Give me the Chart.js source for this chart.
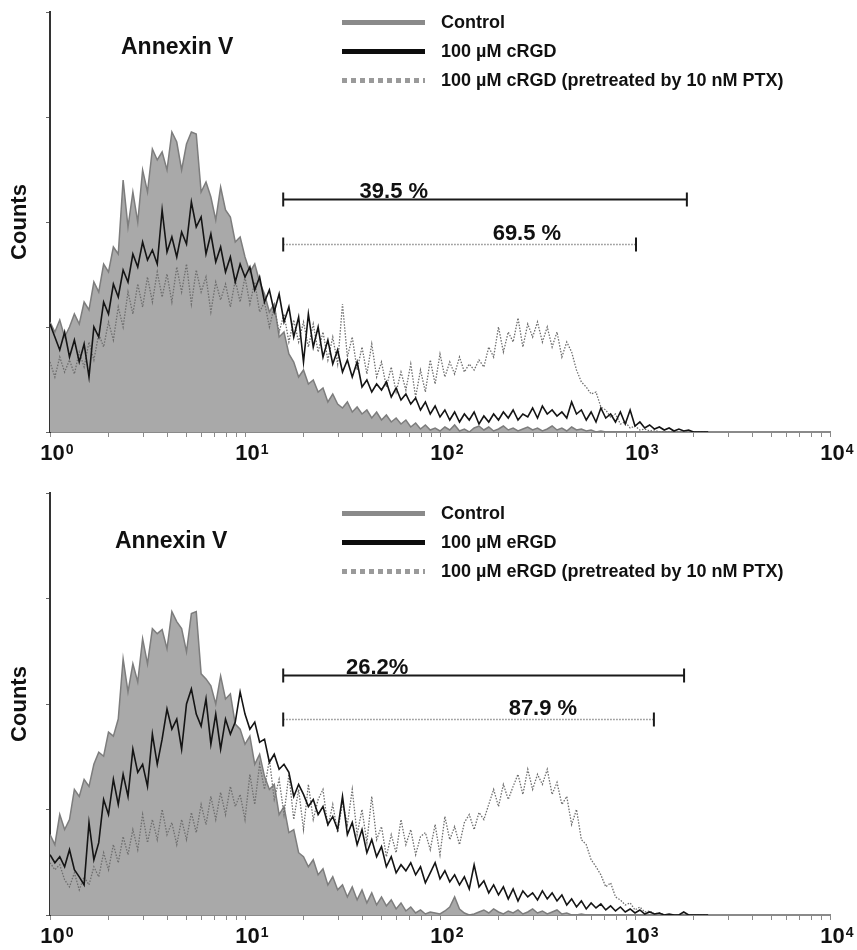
<!DOCTYPE html>
<html>
<head>
<meta charset="utf-8">
<script src="https://cdn.jsdelivr.net/npm/chart.js@4.4.0/dist/chart.umd.min.js"></script>
<style>
html,body{margin:0;padding:0;background:#fff;}
#wrap{position:relative;width:857px;height:950px;overflow:hidden;font-family:"Liberation Sans",Arial,Helvetica,sans-serif;color:#111;}
canvas{position:absolute;left:0;}
.sample{position:absolute;left:342px;width:83px;height:5px;}
.txt{position:absolute;left:441px;font-weight:bold;font-size:18px;line-height:20px;white-space:nowrap;}
.title{position:absolute;font-weight:bold;font-size:23px;line-height:26px;white-space:nowrap;}
</style>
</head>
<body>
<div id="wrap">
  <canvas id="topChart" width="857" height="475" style="top:0px;width:857px;height:475px;"></canvas>
  <canvas id="bottomChart" width="857" height="475" style="top:481px;width:857px;height:475px;"></canvas>
  <div id="overlay"></div>
</div>
<script>
// ---------- DATA ----------
// flow-cytometry channels (40 channels per decade, channel 0 = 10^0, channel 160 = 10^4)
const channels = [0,1,2,3,4,5,6,7,8,9,10,11,12,13,14,15,16,17,18,19,20,21,22,23,24,25,26,27,28,29,30,31,32,33,34,35,36,37,38,39,40,41,42,43,44,45,46,47,48,49,50,51,52,53,54,55,56,57,58,59,60,61,62,63,64,65,66,67,68,69,70,71,72,73,74,75,76,77,78,79,80,81,82,83,84,85,86,87,88,89,90,91,92,93,94,95,96,97,98,99,100,101,102,103,104,105,106,107,108,109,110,111,112,113,114,115,116,117,118,119,120,121,122,123,124,125,126,127,128,129,130,131,132,133,134,135];
const channelsPerDecade = 40;
const decadeExponents = [0,1,2,3,4];

// Top panel (cRGD)
const topControl = [110,100,112,95,105,118,108,130,122,150, 140,168,160,185,178,252,205,240,210,262, 240,283,272,280,262,300,290,262,288,300, 298,240,250,235,212,245,222,215,190,195, 175,160,168,150,138,120,128,95,100,78, 70,55,62,48,52,40,44,30,38,28, 24,30,20,25,18,22,14,20,12,17, 10,14,8,12,5,9,3,7,2,4, 1,5,2,7,1,3,0,4,6,2, 5,1,3,6,2,4,1,3,5,2, 4,1,3,6,2,4,1,5,2,3, 1,2,0,1,0,0,0,0,0,0, 0,0,0,0,0,0,0,0,0,0, 0,0,0,0,0,0];
const topCRGD = [108,95,82,100,75,92,70,88,55,105, 95,130,118,148,135,162,150,178,165,190, 172,182,168,222,180,195,175,200,188,230, 205,215,178,198,170,185,160,175,150,168, 155,165,142,155,130,142,120,138,110,125, 95,115,70,118,85,105,75,92,68,82, 60,72,55,70,45,52,40,48,42,50, 35,44,32,38,28,34,22,30,18,26, 15,22,12,20,10,18,12,20,8,16, 10,18,12,20,14,22,12,18,15,24, 14,26,18,22,16,20,14,30,18,22, 12,20,10,24,14,18,10,20,8,22, 6,10,4,7,3,5,2,4,1,3, 1,2,0,0,0,0];
const topCRGDPTX = [70,55,75,60,72,58,80,65,90,72, 98,85,110,92,125,105,140,118,148,125, 155,130,160,135,158,130,165,140,168,128, 162,140,155,120,150,132,148,125,152,130, 155,128,150,120,130,105,125,100,118,90, 112,90,110,85,108,80,100,72,95,68, 128,75,95,62,85,58,88,55,70,45, 65,40,60,42,68,35,62,40,72,48, 78,55,70,58,75,60,68,62,72,65, 85,75,105,80,100,90,114,85,108,95, 110,90,105,85,100,75,90,80,62,50, 45,38,40,25,22,15,18,8,10,4, 6,2,3,1,2,0,0,0,0,0, 0,0,0,0,0,0];

// Bottom panel (eRGD)
const bottomControl = [80,70,100,85,95,125,118,135,128,150, 162,158,182,178,195,255,222,250,232,275, 250,285,280,284,265,302,292,285,262,300, 302,240,235,228,210,238,215,220,190,185, 170,178,150,160,138,125,130,100,108,82, 85,62,58,48,55,40,46,30,38,25, 30,18,28,15,25,12,22,10,18,9, 15,6,12,4,8,2,5,1,3,2, 1,4,8,18,6,2,0,1,3,5, 2,6,3,1,4,2,5,1,3,6, 2,4,1,3,5,1,2,0,0,1, 0,0,0,0,0,0,0,0,0,0, 0,0,0,0,0,0,0,0,0,0, 0,0,0,0,0,0];
const bottomERGD = [60,52,58,48,65,45,38,30,92,55, 72,115,100,135,110,140,118,165,142,150, 128,180,150,175,205,185,195,165,210,225, 200,188,215,170,200,165,195,180,192,222, 200,185,192,172,175,152,160,145,150,142, 118,130,120,108,115,100,108,90,98,85, 118,80,92,70,85,62,75,58,68,48, 58,42,50,44,52,40,48,32,42,52, 36,44,33,40,30,38,26,50,28,34, 22,30,20,28,16,26,14,24,18,22, 15,24,16,22,14,20,10,16,8,14, 6,12,7,11,5,9,4,8,3,6, 2,5,1,3,1,2,0,1,0,0, 3,0,0,0,0,0];
const bottomERGDPTX = [52,45,50,35,28,42,25,38,30,48, 38,62,45,70,52,78,60,85,65,100, 72,95,75,105,80,92,70,95,75,102, 82,110,90,118,95,122,100,128,108,120, 95,140,110,150,125,155,115,135,100,140, 95,125,85,130,95,115,125,88,110,82, 112,90,125,80,105,72,118,75,88,58, 80,62,95,70,85,60,78,82,65,90, 60,98,75,88,70,92,100,85,102,95, 110,125,108,130,115,128,140,120,145,125, 140,130,145,120,132,110,118,90,105,75, 70,55,48,40,28,32,18,15,10,12, 5,8,3,4,1,2,0,0,0,0, 0,0,0,0,0,0];

// Legend labels
const topLabels = ['Control', '100 \u00B5M cRGD', '100 \u00B5M cRGD (pretreated by 10 nM PTX)'];
const bottomLabels = ['Control', '100 \u00B5M eRGD', '100 \u00B5M eRGD (pretreated by 10 nM PTX)'];
const panelTitle = 'Annexin V';
const yAxisTitle = 'Counts';
const tickBase = '10';

// Gates (fluorescence intensity start/end, gate level in counts, label, label centre intensity)
const topGateStart = [15.7, 15.7];
const topGateEnd = [1845, 1012];
const topGateLevel = [233, 188];
const topGateLabel = ['39.5 %', '69.5 %'];
const topGateLabelAt = [58, 279];
const bottomGateStart = [15.7, 15.7];
const bottomGateEnd = [1785, 1250];
const bottomGateLevel = [239, 195];
const bottomGateLabel = ['26.2%', '87.9 %'];
const bottomGateLabelAt = [47.6, 337];
const gateDotted = [false, true];

// ---------- RENDER ----------
const FONT = '"Liberation Sans", Arial, Helvetica, sans-serif';
const toChannel = v => channelsPerDecade * Math.log10(v);
const xMax = channelsPerDecade * decadeExponents[decadeExponents.length - 1];
const xTickValues = [];
decadeExponents.forEach(d => {
  if (d === decadeExponents[decadeExponents.length - 1]) { xTickValues.push(d * channelsPerDecade); return; }
  for (let k = 1; k <= 9; k++) xTickValues.push(channelsPerDecade * (d + Math.log10(k)));
});

// power-of-ten tick labels with a real superscript exponent
const powerLabelPlugin = {
  id: 'powerLabels',
  afterDraw(chart) {
    const {ctx} = chart;
    const xs = chart.scales.x;
    const axisY = chart.chartArea.bottom;
    ctx.save();
    ctx.fillStyle = '#111';
    ctx.textBaseline = 'alphabetic';
    ctx.textAlign = 'left';
    decadeExponents.forEach(d => {
      const px = xs.getPixelForValue(d * channelsPerDecade);
      ctx.font = 'bold 22px ' + FONT;
      const wb = ctx.measureText(tickBase).width;
      ctx.font = 'bold 14px ' + FONT;
      const we = ctx.measureText(String(d)).width;
      const left = px + 7 - (wb + we + 1) / 2;
      ctx.font = 'bold 22px ' + FONT;
      ctx.fillText(tickBase, left, axisY + 28);
      ctx.font = 'bold 14px ' + FONT;
      ctx.fillText(String(d), left + wb + 1, axisY + 22);
    });
    ctx.restore();
  }
};

function gatePlugin(starts, ends, levels, labels, labelAt) {
  return {
    id: 'gates',
    afterDatasetsDraw(chart) {
      const {ctx} = chart;
      const xs = chart.scales.x, ys = chart.scales.y;
      starts.forEach((s, i) => {
        const x1 = xs.getPixelForValue(toChannel(s));
        const x2 = xs.getPixelForValue(toChannel(ends[i]));
        const yy = Math.round(ys.getPixelForValue(levels[i])) + 0.5;
        const dotted = gateDotted[i];
        ctx.save();
        ctx.beginPath();
        ctx.lineWidth = dotted ? 1.3 : 2;
        ctx.strokeStyle = dotted ? '#8c8c8c' : '#1a1a1a';
        ctx.setLineDash(dotted ? [1.5, 1.5] : []);
        ctx.moveTo(x1, yy); ctx.lineTo(x2, yy); ctx.stroke();
        ctx.setLineDash([]);
        ctx.strokeStyle = '#1a1a1a'; ctx.lineWidth = 2;
        [x1, x2].forEach(px => { ctx.beginPath(); ctx.moveTo(px, yy - 7); ctx.lineTo(px, yy + 7); ctx.stroke(); });
        ctx.font = 'bold 22px ' + FONT;
        ctx.fillStyle = '#111';
        ctx.textAlign = 'center';
        ctx.textBaseline = 'alphabetic';
        ctx.fillText(labels[i], xs.getPixelForValue(toChannel(labelAt[i])), yy - (dotted ? 5 : 2));
        ctx.restore();
      });
    }
  };
}

function pts(series) { return channels.map((c, i) => ({x: c, y: series[i]})); }

function makeChart(id, control, treated, pretreated, labels, padTop, xAxisHeight, gate) {
  return new Chart(document.getElementById(id), {
    type: 'line',
    data: {
      datasets: [
        {label: labels[0], data: pts(control), borderColor: '#7d7d7d', backgroundColor: '#a9a9a9', fill: 'origin', borderWidth: 1.5, order: 3},
        {label: labels[2], data: pts(pretreated), borderColor: '#6e6e6e', borderDash: [1.5, 1.5], borderWidth: 1.3, fill: false, order: 2},
        {label: labels[1], data: pts(treated), borderColor: '#141414', borderWidth: 1.6, fill: false, order: 1}
      ]
    },
    options: {
      responsive: false,
      animation: false,
      devicePixelRatio: 1,
      layout: {padding: {top: padTop, right: 27, left: 0, bottom: 0}},
      elements: {point: {radius: 0}, line: {tension: 0}},
      plugins: {legend: {display: false}, tooltip: {enabled: false}},
      scales: {
        x: {
          type: 'linear', min: 0, max: xMax,
          afterBuildTicks: s => { s.ticks = xTickValues.map(v => ({value: v})); },
          afterFit: s => { s.height = xAxisHeight; },
          grid: {drawOnChartArea: false, drawTicks: true, tickLength: 5, color: '#8a8a8a', lineWidth: 1},
          border: {display: true, color: '#8a8a8a', width: 2},
          ticks: {autoSkip: false, maxRotation: 0, minRotation: 0, padding: 3, callback: () => ''}
        },
        y: {
          min: 0, max: 420,
          afterFit: s => { s.width = 50; },
          ticks: {stepSize: 105, callback: () => '', padding: 0},
          grid: {drawOnChartArea: false, drawTicks: true, tickLength: 4, color: '#666'},
          border: {display: true, color: '#333', width: 2},
          title: {display: true, text: yAxisTitle, color: '#111', font: {family: FONT, size: 22, weight: 'bold'}, padding: {top: 7, bottom: 0}}
        }
      }
    },
    plugins: [gatePlugin(gate[0], gate[1], gate[2], gate[3], gate[4]), powerLabelPlugin]
  });
}

makeChart('topChart', topControl, topCRGD, topCRGDPTX, topLabels, 12, 43,
  [topGateStart, topGateEnd, topGateLevel, topGateLabel, topGateLabelAt]);
makeChart('bottomChart', bottomControl, bottomERGD, bottomERGDPTX, bottomLabels, 12, 41,
  [bottomGateStart, bottomGateEnd, bottomGateLevel, bottomGateLabel, bottomGateLabelAt]);

// ---------- LEGENDS & TITLES (HTML text) ----------
const overlay = document.getElementById('overlay');
const sampleStyles = [
  'background:#8a8a8a;',
  'background:#0d0d0d;',
  'background:repeating-linear-gradient(to right,#9a9a9a 0 5px,transparent 5px 9px);'
];
function addLegend(labels, rowTops, titleTop, titleLeft) {
  labels.forEach((t, i) => {
    const s = document.createElement('div');
    s.className = 'sample';
    s.style.cssText = sampleStyles[i] + 'top:' + (rowTops[i] + 7.5) + 'px;';
    overlay.appendChild(s);
    const d = document.createElement('div');
    d.className = 'txt';
    d.style.top = rowTops[i] + 'px';
    d.textContent = t;
    overlay.appendChild(d);
  });
  const h = document.createElement('div');
  h.className = 'title';
  h.style.top = titleTop + 'px';
  h.style.left = titleLeft + 'px';
  h.textContent = panelTitle;
  overlay.appendChild(h);
}
addLegend(topLabels, [12, 41, 70], 33, 121);
addLegend(bottomLabels, [503, 532, 561], 527, 115);
</script>
</body>
</html>
